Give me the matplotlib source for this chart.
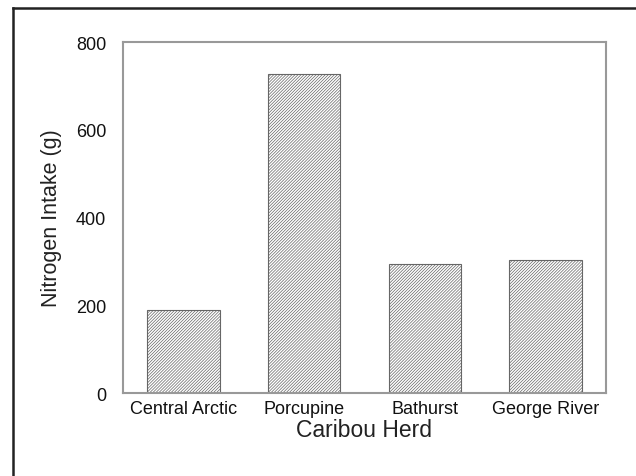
import matplotlib.pyplot as plt
from matplotlib.lines import Line2D

plt.rcParams['font.family'] = ['Liberation Sans', 'DejaVu Sans']
plt.rcParams['hatch.color'] = '#8c8c8c'
plt.rcParams['hatch.linewidth'] = 0.5

herds = ["Central Arctic", "Porcupine", "Bathurst", "George River"]
nitrogen_g = [190, 728, 294, 304]
y_ticks = [0, 200, 400, 600, 800]

fig = plt.figure(figsize=(6.36, 4.77), dpi=100)
ax = fig.add_axes([0.1934, 0.174, 0.7594, 0.7358])

x = range(len(herds))
ax.bar(x, nitrogen_g, width=0.6, color='white', edgecolor='#666666',
       linewidth=0.8, hatch='/' * 11)

ax.set_xlim(-0.5, 3.5)
ax.set_ylim(0, 800)
ax.set_yticks(y_ticks)
ax.set_xticks(list(x))
ax.set_xticklabels(herds)
ax.tick_params(axis='both', length=0, labelsize=13, colors='#111111')
ax.tick_params(axis='y', pad=12)
ax.tick_params(axis='x', pad=5)

for s in ax.spines.values():
    s.set_color('#999999')
    s.set_linewidth(1.5)

ax.set_xlabel("Caribou Herd", fontsize=16.5, color='#222222', labelpad=1)
ax.set_ylabel("Nitrogen Intake (g)", fontsize=15.5, color='#222222', labelpad=10)

# frame around the figure (only top and left show in the crop)
ytop = 1 - 9 / 477
xleft = 12.5 / 636
fig.add_artist(Line2D([xleft, 1], [ytop, ytop], color='#222222', lw=1.8,
                      transform=fig.transFigure))
fig.add_artist(Line2D([xleft, xleft], [0, ytop], color='#222222', lw=1.8,
                      transform=fig.transFigure))

fig.savefig("out.png", dpi=100)
